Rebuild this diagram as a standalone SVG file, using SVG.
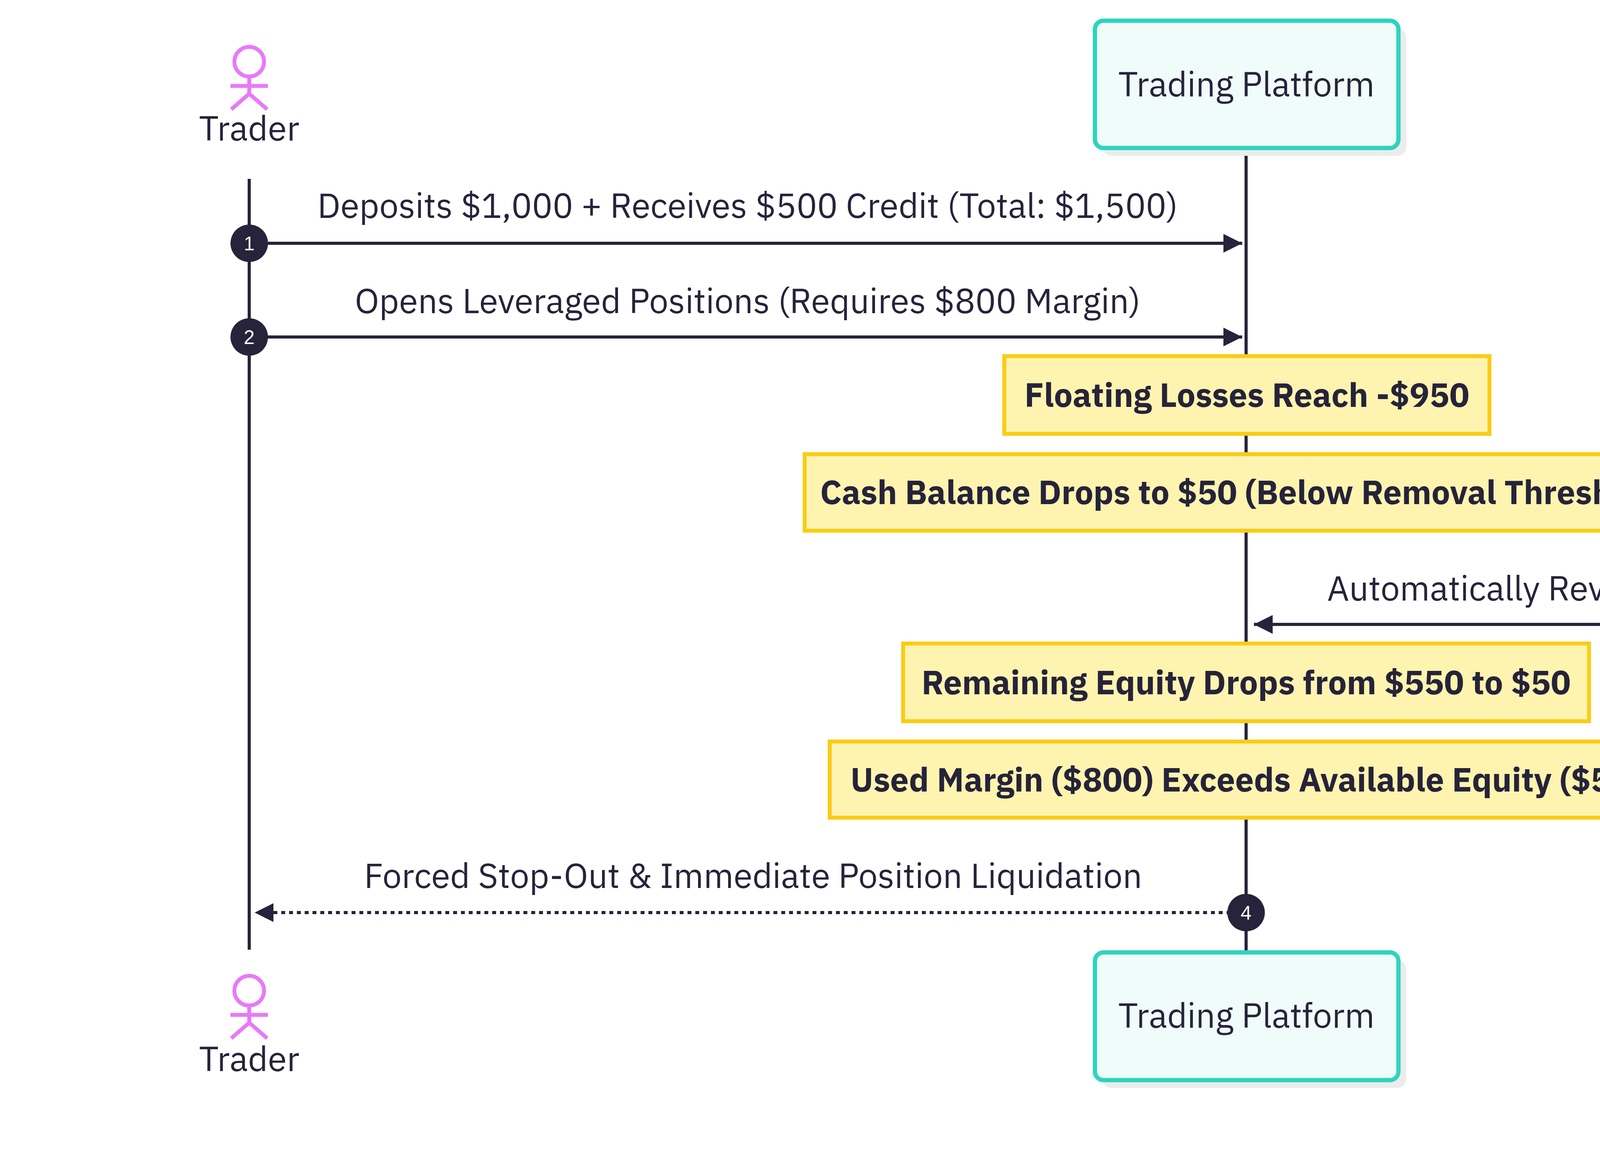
<svg xmlns="http://www.w3.org/2000/svg" width="5825" height="2945" viewBox="0 0 5825 2945">
<style>
text{font-family:"IBM Plex Sans","Noto Sans","Liberation Sans",sans-serif;fill:#26233a;font-size:88px;text-anchor:middle}
.b{font-weight:bold;font-size:85px}
.life{stroke:#26233a;stroke-width:8}
.msg{stroke:#26233a;stroke-width:8;fill:none}
.tp{fill:#effcf9;stroke:#2dd4bf;stroke-width:11}
.be{fill:#fff6ec;stroke:#fb923c;stroke-width:11}
.sh{fill:#ececec}
.note{fill:#fef4b0;stroke:#facc15;stroke-width:10}
.act{fill:none;stroke:#e879f9;stroke-width:10}
.num{fill:#26233a}
.nt{fill:#fff;font-size:50px;font-family:"Liberation Sans",sans-serif}
</style>
<defs>
<marker id="ah" viewBox="0 0 10 10" refX="10" refY="5" markerWidth="6" markerHeight="6" markerUnits="strokeWidth" orient="auto"><path d="M0,0 L10,5 L0,10 z" fill="#26233a"/></marker>
</defs>
<rect width="5825" height="2945" fill="#fff"/>
<g id="lifelines">
<line class="life" x1="638" y1="458" x2="638" y2="2432"/>
<line class="life" x1="3190" y1="379" x2="3190" y2="2439"/>
<line class="life" x1="5247" y1="379" x2="5247" y2="2439"/>
</g>
<g id="trader-top">
<circle class="act" cx="638" cy="158" r="38"/>
<line class="act" x1="638" y1="196" x2="638" y2="240"/>
<line class="act" x1="590" y1="220" x2="686" y2="220"/>
<line class="act" x1="638" y1="240" x2="592" y2="280"/>
<line class="act" x1="638" y1="240" x2="684" y2="280"/>
<text x="638" y="360">Trader</text>
</g>
<g id="trader-bottom">
<circle class="act" cx="638" cy="2537" r="38"/>
<line class="act" x1="638" y1="2575" x2="638" y2="2619"/>
<line class="act" x1="590" y1="2599" x2="686" y2="2599"/>
<line class="act" x1="638" y1="2619" x2="592" y2="2659"/>
<line class="act" x1="638" y1="2619" x2="684" y2="2659"/>
<text x="638" y="2743">Trader</text>
</g>
<g id="platform-top">
<rect class="sh" x="2823" y="73" width="777" height="326" rx="22"/>
<rect class="tp" x="2803" y="53" width="777" height="326" rx="22"/>
<text x="3191" y="247">Trading Platform</text>
</g>
<g id="platform-bottom">
<rect class="sh" x="2823" y="2459" width="777" height="327" rx="22"/>
<rect class="tp" x="2803" y="2439" width="777" height="327" rx="22"/>
<text x="3191" y="2632">Trading Platform</text>
</g>
<g id="broker-top">
<rect class="sh" x="4891" y="73" width="759" height="326" rx="22"/>
<rect class="be" x="4871" y="53" width="759" height="326" rx="22"/>
<text x="5250" y="247">Broker Engine</text>
</g>
<g id="broker-bottom">
<rect class="sh" x="4891" y="2459" width="759" height="327" rx="22"/>
<rect class="be" x="4871" y="2439" width="759" height="327" rx="22"/>
<text x="5250" y="2632">Broker Engine</text>
</g>
<g id="notes">
<rect class="note" x="2571" y="912" width="1242" height="199"/>
<text class="b" x="3192" y="1042">Floating Losses Reach -$950</text>
<rect class="note" x="2060" y="1163" width="2260" height="196"/>
<text class="b" x="3190" y="1291">Cash Balance Drops to $50 (Below Removal Threshold)</text>
<rect class="note" x="2312" y="1648" width="1756" height="199"/>
<text class="b" x="3190" y="1778">Remaining Equity Drops from $550 to $50</text>
<rect class="note" x="2124" y="1899" width="2132" height="195"/>
<text class="b" x="3190" y="2027">Used Margin ($800) Exceeds Available Equity ($50)</text>
</g>
<g id="connectors">
<line class="msg" x1="638" y1="623" x2="3180" y2="623" marker-end="url(#ah)"/>
<text x="1914" y="558">Deposits $1,000 + Receives $500 Credit (Total: $1,500)</text>
<circle class="num" cx="638" cy="623" r="48"/><text class="nt" x="638" y="641">1</text>
<line class="msg" x1="638" y1="863" x2="3180" y2="863" marker-end="url(#ah)"/>
<text x="1914" y="802">Opens Leveraged Positions (Requires $800 Margin)</text>
<circle class="num" cx="638" cy="863" r="48"/><text class="nt" x="638" y="881">2</text>
<line class="msg" x1="5247" y1="1599" x2="3210" y2="1599" marker-end="url(#ah)"/>
<text x="4235" y="1538">Automatically Revokes $500 Margin Credit</text>
<circle class="num" cx="5247" cy="1599" r="48"/><text class="nt" x="5247" y="1617">3</text>
<line class="msg" x1="3190" y1="2337" x2="652" y2="2337" stroke-dasharray="10,10" marker-end="url(#ah)"/>
<text x="1928" y="2274">Forced Stop-Out &amp; Immediate Position Liquidation</text>
<circle class="num" cx="3190" cy="2337" r="48"/><text class="nt" x="3190" y="2355">4</text>
</g>
</svg>
